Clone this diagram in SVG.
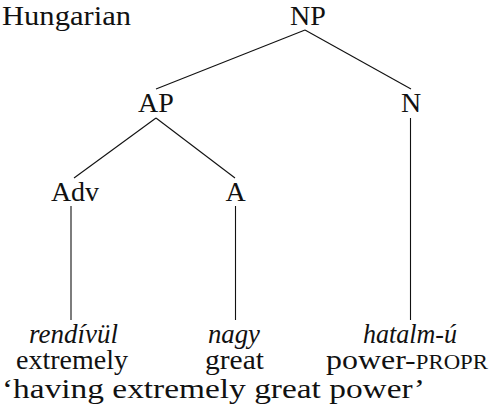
<svg xmlns="http://www.w3.org/2000/svg" width="490" height="415" viewBox="0 0 490 415">
  <style>
    text { font-family: "Liberation Serif", "Times New Roman", serif; font-size: 28px; fill: #111; }
    .c { text-anchor: middle; }
    .it { font-style: italic; }
    .sc { font-size: 20px; }
    .edge { stroke: #111; stroke-width: 1.1; fill: none; }
  </style>

  <!-- language label -->
  <text id="lang" x="2" y="25" textLength="129" lengthAdjust="spacingAndGlyphs">Hungarian</text>

  <!-- tree edges -->
  <g id="edges">
    <line class="edge" x1="305" y1="30" x2="156" y2="89"/>
    <line class="edge" x1="305" y1="30" x2="411" y2="89"/>
    <line class="edge" x1="156" y1="118" x2="74" y2="178"/>
    <line class="edge" x1="156" y1="118" x2="235" y2="178"/>
    <line class="edge" x1="71" y1="206" x2="71" y2="320"/>
    <line class="edge" x1="235.5" y1="206" x2="235.5" y2="320"/>
    <line class="edge" x1="410.5" y1="118" x2="410.5" y2="320"/>
  </g>

  <!-- category nodes -->
  <g id="node-NP"><text class="c" x="308" y="25">NP</text></g>
  <g id="node-AP"><text class="c" x="156" y="112">AP</text></g>
  <g id="node-N"><text class="c" x="411" y="112">N</text></g>
  <g id="node-Adv"><text class="c" x="75" y="201">Adv</text></g>
  <g id="node-A"><text class="c" x="235.5" y="201">A</text></g>

  <!-- leaves: word + gloss -->
  <g id="leaf-rendivul">
    <text class="it" x="29" y="343" textLength="89" lengthAdjust="spacingAndGlyphs">rendívül</text>
    <text x="16" y="369" textLength="112" lengthAdjust="spacingAndGlyphs">extremely</text>
  </g>
  <g id="leaf-nagy">
    <text class="it" x="208" y="343" textLength="52" lengthAdjust="spacingAndGlyphs">nagy</text>
    <text x="205" y="369" textLength="59" lengthAdjust="spacingAndGlyphs">great</text>
  </g>
  <g id="leaf-hatalmu">
    <text class="it" x="363" y="343" textLength="94" lengthAdjust="spacingAndGlyphs">hatalm-ú</text>
    <text x="326" y="369" textLength="162" lengthAdjust="spacingAndGlyphs">power-<tspan class="sc">PROPR</tspan></text>
  </g>

  <!-- free translation -->
  <text id="translation" x="2" y="398" textLength="423" lengthAdjust="spacingAndGlyphs">‘having extremely great power’</text>
</svg>
